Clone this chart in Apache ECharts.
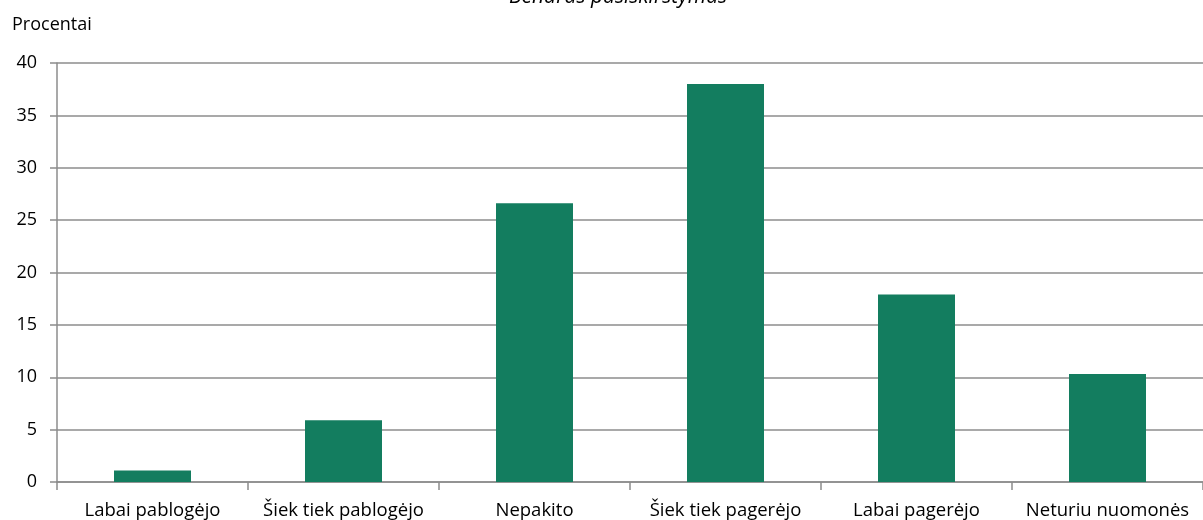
<!DOCTYPE html>
<html>
<head>
<meta charset="utf-8">
<script src="https://cdn.jsdelivr.net/npm/echarts@6/dist/echarts.min.js"></script>
<style>
  html, body { margin: 0; padding: 0; background: #fff; }
  #chart { width: 1203px; height: 520px; }
</style>
</head>
<body>
<div id="chart"></div>
<script>
const categories = [
  "Labai pablogėjo",
  "Šiek tiek pablogėjo",
  "Nepakito",
  "Šiek tiek pagerėjo",
  "Labai pagerėjo",
  "Neturiu nuomonės",
];
const values = [1.1, 5.9, 26.6, 38.0, 17.9, 10.3];
const yTicks = { min: 0, max: 40, step: 5 };

const font = "'Open Sans', 'Noto Sans', sans-serif";

const chart = echarts.init(document.getElementById("chart"), null, {
  renderer: "canvas",
});

chart.setOption({
  animation: false,
  textStyle: { fontFamily: font },
  title: {
    text: "Bendras pasiskirstymas",
    left: 613,
    textAlign: "center",
    top: -18,
    textStyle: {
      fontFamily: font,
      fontStyle: "italic",
      fontWeight: "normal",
      fontSize: 21,
      color: "#000",
    },
  },
  grid: { left: 57, right: -6, top: 63, bottom: 37, containLabel: false },
  xAxis: {
    type: "category",
    data: categories,
    axisLine: { lineStyle: { color: "#8c8c8c", width: 1.5 } },
    axisTick: { show: true, length: 8, lineStyle: { color: "#8c8c8c", width: 1.5 } },
    axisLabel: { color: "#000", fontSize: 18.5, margin: 19, interval: 0 },
  },
  yAxis: {
    type: "value",
    name: "Procentai",
    nameLocation: "end",
    nameGap: 0,
    nameTextStyle: {
      color: "#000",
      fontSize: 18,
      align: "left",
      padding: [0, 0, 29, -45],
    },
    min: yTicks.min,
    max: yTicks.max,
    interval: yTicks.step,
    axisLine: { show: true, lineStyle: { color: "#8c8c8c", width: 1.5 } },
    axisTick: { show: true, length: 7, lineStyle: { color: "#8c8c8c", width: 1.5 } },
    axisLabel: { color: "#000", fontSize: 18, margin: 20 },
    splitLine: { lineStyle: { color: "#8c8c8c", width: 1.5 } },
  },
  series: [
    {
      type: "bar",
      data: values,
      barWidth: 77,
      itemStyle: { color: "#137d5f" },
    },
  ],
});
</script>
</body>
</html>
